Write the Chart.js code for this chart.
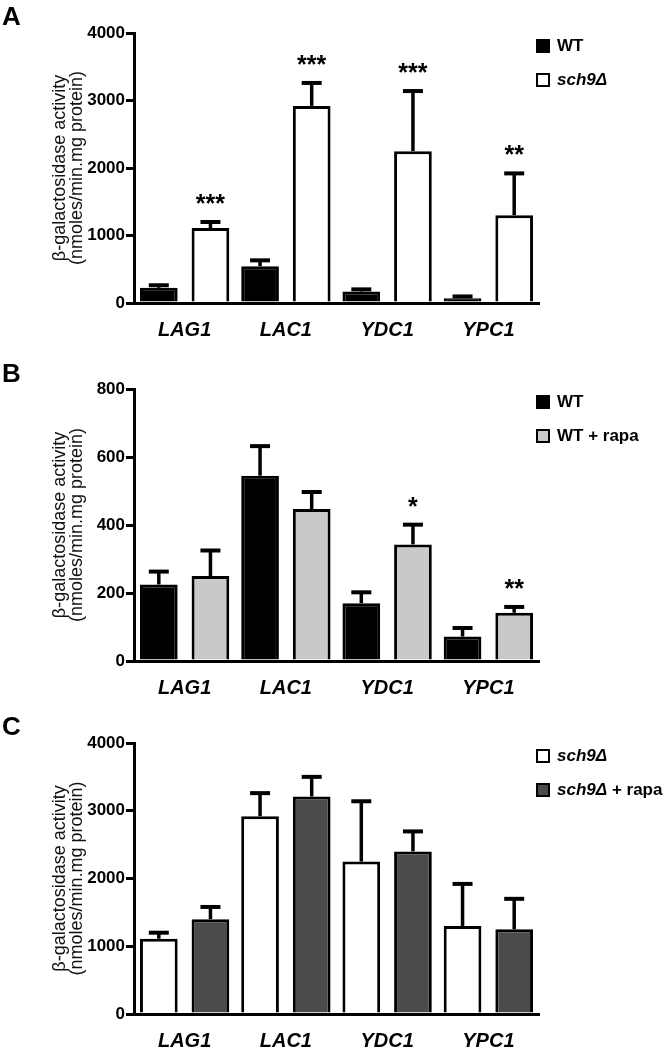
<!DOCTYPE html>
<html><head><meta charset="utf-8">
<script src="https://cdn.jsdelivr.net/npm/chart.js@4.4.1/dist/chart.umd.min.js"></script>
<style>
html,body{margin:0;padding:0;background:#fff;width:666px;height:1050px;overflow:hidden}
canvas{position:absolute;left:0}
</style></head><body>
<canvas id="cA" width="666" height="345" style="top:0px"></canvas>
<canvas id="cB" width="666" height="350" style="top:345px"></canvas>
<canvas id="cC" width="666" height="355" style="top:695px"></canvas>
<script>
// ---- data ----
const categories = ['LAG1', 'LAC1', 'YDC1', 'YPC1'];
const yTicksAC = [0, 1000, 2000, 3000, 4000];
const yTicksB = [0, 200, 400, 600, 800];
const yTitle = ['β-galactosidase activity', '(nmoles/min.mg protein)'];

const wtValues = [225, 545, 170, 72];
const wtErrors = [38, 87, 32, 25];
const sch9Values = [1110, 2920, 2250, 1300];
const sch9Errors = [90, 340, 890, 620];
const wtRapaValues = [250, 447, 343, 142];
const wtRapaErrors = [75, 50, 58, 17];
const sch9RapaValues = [1400, 3210, 2400, 1250];
const sch9RapaErrors = [180, 290, 295, 450];

const starsA_sch9 = ['***', '***', '***', '**'];
const starsB_rapa = ['', '', '*', '**'];

const COL_BLACK = '#000000';
const COL_WHITE = '#ffffff';
const COL_LIGHT = '#c9c9c9';
const COL_DARK = '#4b4b4b';
const SANS = '"Liberation Sans", Arial, sans-serif';

// ---- plugin: error bars, stars, legend, panel letter ----
const decoPlugin = {
  id: 'deco',
  afterDatasetsDraw(chart) {
    const ctx = chart.ctx;
    const ys = chart.scales.y;
    ctx.save();
    chart.data.datasets.forEach((ds, i) => {
      const meta = chart.getDatasetMeta(i);
      meta.data.forEach((bar, j) => {
        const v = ds.data[j], e = ds.errors ? ds.errors[j] : 0;
        const yTop = ys.getPixelForValue(v + e);
        ctx.strokeStyle = '#000';
        ctx.lineCap = 'butt';
        ctx.lineWidth = 3.5;
        ctx.beginPath(); ctx.moveTo(bar.x, bar.y); ctx.lineTo(bar.x, yTop); ctx.stroke();
        ctx.lineWidth = 4;
        ctx.beginPath(); ctx.moveTo(bar.x - 10, yTop); ctx.lineTo(bar.x + 10, yTop); ctx.stroke();
        if (ds.stars && ds.stars[j]) {
          ctx.fillStyle = '#000';
          ctx.font = 'bold 25px ' + SANS;
          ctx.textAlign = 'center';
          ctx.textBaseline = 'alphabetic';
          ctx.fillText(ds.stars[j], bar.x, yTop - 10);
        }
      });
    });
    ctx.restore();
  },
  afterDraw(chart, args, opts) {
    const ctx = chart.ctx;
    ctx.save();
    ctx.fillStyle = '#000';
    ctx.font = 'bold 26px ' + SANS;
    ctx.textAlign = 'left';
    ctx.textBaseline = 'alphabetic';
    ctx.fillText(opts.letter, 2, opts.letterY);
    const top = chart.chartArea.top;
    const rows = [13, 47];
    chart.data.datasets.forEach((ds, i) => {
      const cy = top + rows[i];
      ctx.fillStyle = ds.backgroundColor;
      ctx.fillRect(536, cy - 7, 14, 14);
      ctx.strokeStyle = '#000';
      ctx.lineWidth = 2;
      ctx.strokeRect(537, cy - 6, 12, 12);
      let x = 557;
      ctx.fillStyle = '#000';
      ctx.textBaseline = 'middle';
      ds.legendRuns.forEach(r => {
        ctx.font = (r.italic ? 'italic ' : '') + 'bold 17px ' + SANS;
        ctx.fillText(r.text, x, cy);
        x += ctx.measureText(r.text).width;
      });
    });
    ctx.restore();
  }
};

function makeChart(id, cfg) {
  const H = document.getElementById(id).height;
  return new Chart(document.getElementById(id), {
    type: 'bar',
    data: { labels: categories, datasets: cfg.datasets },
    options: {
      responsive: false,
      animation: false,
      devicePixelRatio: 1,
      layout: { padding: { left: 0, right: 666 - 539, top: cfg.top, bottom: H - cfg.bottom - 34 } },
      datasets: { bar: { categoryPercentage: 1.02, barPercentage: 0.73, borderWidth: 3, borderColor: '#000', borderSkipped: 'start' } },
      plugins: {
        legend: { display: false },
        tooltip: { enabled: false },
        deco: { letter: cfg.letter, letterY: cfg.letterY }
      },
      scales: {
        x: {
          type: 'category',
          afterFit(s) { s.height = 34; },
          grid: { display: false, drawTicks: false },
          border: { display: true, width: 3, color: '#000' },
          ticks: { color: '#000', padding: 15, font: { family: SANS, size: 20, weight: 'bold', style: 'italic' } }
        },
        y: {
          min: 0, max: cfg.max,
          afterFit(s) { s.width = 134; },
          afterBuildTicks(s) { s.ticks = cfg.ticks.map(v => ({ value: v })); },
          grid: { drawOnChartArea: false, drawTicks: true, tickLength: 8, lineWidth: 3, color: '#000' },
          border: { display: true, width: 3, color: '#000' },
          ticks: { color: '#000', padding: 1, callback: v => String(v),
                   font: { family: SANS, size: 17, weight: 'bold' } },
          title: {
            display: true, text: yTitle, color: '#111',
            font: { family: SANS, size: 18, weight: 'normal', lineHeight: 0.92 },
            padding: { top: 52, bottom: 0 }
          }
        }
      }
    },
    plugins: [decoPlugin]
  });
}

makeChart('cA', {
  letter: 'A', letterY: 25, top: 33, bottom: 303, max: 4000, ticks: yTicksAC,
  datasets: [
    { label: 'WT', data: wtValues, errors: wtErrors, backgroundColor: COL_BLACK,
      legendRuns: [{ text: 'WT' }] },
    { label: 'sch9Δ', data: sch9Values, errors: sch9Errors, stars: starsA_sch9, backgroundColor: COL_WHITE,
      legendRuns: [{ text: 'sch9Δ', italic: true }] }
  ]
});

makeChart('cB', {
  letter: 'B', letterY: 37, top: 44, bottom: 316, max: 800, ticks: yTicksB,
  datasets: [
    { label: 'WT', data: wtValues, errors: wtErrors, backgroundColor: COL_BLACK,
      legendRuns: [{ text: 'WT' }] },
    { label: 'WT + rapa', data: wtRapaValues, errors: wtRapaErrors, stars: starsB_rapa, backgroundColor: COL_LIGHT,
      legendRuns: [{ text: 'WT + rapa' }] }
  ]
});

makeChart('cC', {
  letter: 'C', letterY: 40, top: 48, bottom: 319, max: 4000, ticks: yTicksAC,
  datasets: [
    { label: 'sch9Δ', data: sch9Values, errors: sch9Errors, backgroundColor: COL_WHITE,
      legendRuns: [{ text: 'sch9Δ', italic: true }] },
    { label: 'sch9Δ + rapa', data: sch9RapaValues, errors: sch9RapaErrors, backgroundColor: COL_DARK,
      legendRuns: [{ text: 'sch9Δ', italic: true }, { text: ' + rapa' }] }
  ]
});
</script>
</body></html>
